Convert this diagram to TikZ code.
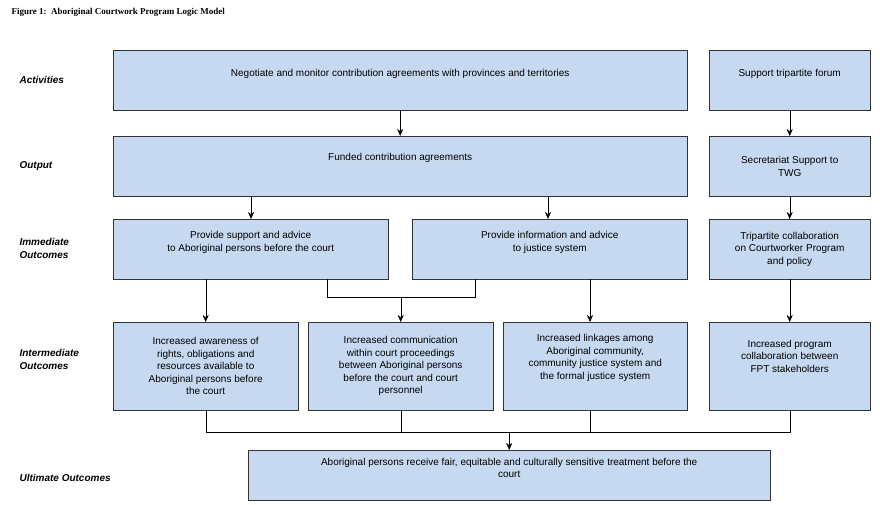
\documentclass[tikz,border=0pt]{standalone}
\usepackage{fontspec}
\setmainfont{Liberation Sans}
\newfontfamily\titlefont{Liberation Serif}
\usetikzlibrary{arrows.meta,positioning,calc}
\tikzset{
box/.style={rectangle, draw=black!80, fill=boxblue, align=center, font=\fontsize{10}{12.5}\selectfont, inner sep=2pt, anchor=north west},
row_label/.style={anchor=west, align=left, font=\fontsize{10}{13}\selectfont\bfseries\itshape},
line_inner/.style={draw, -{Stealth[length=7pt,width=6pt]}},
line_plain/.style={draw}
}
\definecolor{boxblue}{RGB}{198,217,240}
\begin{document}
\begin{tikzpicture}[x=1pt,y=-1pt]
\useasboundingbox (0,0) rectangle (880,504);

\node[anchor=west, font=\titlefont\fontsize{9}{11}\selectfont\bfseries] (title) at (8,12) {Figure 1:\ \ Aboriginal Courtwork Program Logic Model};

% row labels
\node[row_label] (l_act) at (16,80) {Activities};
\node[row_label] (l_out) at (16,166) {Output};
\node[row_label] (l_imm) at (16,248) {Immediate\\Outcomes};
\node[row_label] (l_int) at (16,359) {Intermediate\\Outcomes};
\node[row_label] (l_ult) at (16,478) {Ultimate Outcomes};

% boxes
\node[box, minimum width=574, minimum height=60] (act) at (113,50) {Negotiate and monitor contribution agreements with provinces and territories\\[3pt]};
\node[box, minimum width=161, minimum height=60] (forum) at (709,50) {Support tripartite forum\\[3pt]};
\node[box, minimum width=574, minimum height=60] (funded) at (113,136) {Funded contribution agreements\\[6pt]};
\node[box, minimum width=161, minimum height=60] (secr) at (709,136) {Secretariat Support to\\TWG};
\node[box, minimum width=275, minimum height=60] (support) at (113,219) {Provide support and advice\\to Aboriginal persons before the court\\[3pt]};
\node[box, minimum width=275, minimum height=60] (info) at (412,219) {Provide information and advice\\to justice system\\[3pt]};
\node[box, minimum width=161, minimum height=60] (collab) at (709,219) {Tripartite collaboration\\on Courtworker Program\\and policy};
\node[box, minimum width=185, minimum height=88] (aware) at (113,322) {Increased awareness of\\rights, obligations and\\resources available to\\Aboriginal persons before\\the court};
\node[box, minimum width=185, minimum height=88] (comm) at (308,322) {Increased communication\\within court proceedings\\between Aboriginal persons\\before the court and court\\personnel};
\node[box, minimum width=184, minimum height=88] (link) at (503,322) {Increased linkages among\\Aboriginal community,\\community justice system and\\the formal justice system\\[6pt]};
\node[box, minimum width=161, minimum height=88] (prog) at (709,322) {Increased program\\collaboration between\\FPT stakeholders\\[8pt]};
\node[box, minimum width=522, minimum height=50] (fair) at (248,450) {Aboriginal persons receive fair, equitable and culturally sensitive treatment before the\\court\\[2pt]};

% connectors
\draw[line_inner] (act.south) -- (funded.north);
\draw[line_inner] (forum.south) -- (secr.north);
\draw[line_inner] ($(funded.south west)+(138,0)$) -- ($(support.north west)+(138,0)$);
\draw[line_inner] ($(funded.south west)+(435,0)$) -- ($(info.north west)+(136,0)$);
\draw[line_inner] (secr.south) -- (collab.north);
\draw[line_inner] (support.south -| aware.north) -- (aware.north);
\coordinate (j1) at ($(support.south west)+(214,18)$);
\coordinate (j2) at ($(info.south west)+(63,18)$);
\draw[line_plain] ($(support.south west)+(214,0)$) -- (j1) -- (j2) -- ($(info.south west)+(63,0)$);
\draw[line_inner] (j1 -| comm.north) -- (comm.north);
\draw[line_inner] ($(info.south west)+(178,0)$) -- ($(link.north west)+(87,0)$);
\draw[line_inner] (collab.south) -- (prog.north);
\coordinate (b1) at ($(aware.south)+(0,22)$);
\coordinate (b4) at ($(prog.south)+(0,22)$);
\draw[line_plain] (aware.south) -- (b1) -- (b4) -- (prog.south);
\draw[line_plain] (comm.south) -- (comm.south |- b1);
\draw[line_plain] ($(link.south west)+(87,0)$) -- ($(link.south west)+(87,22)$);
\draw[line_inner] (b1 -| fair.north) -- (fair.north);
\end{tikzpicture}
\end{document}
